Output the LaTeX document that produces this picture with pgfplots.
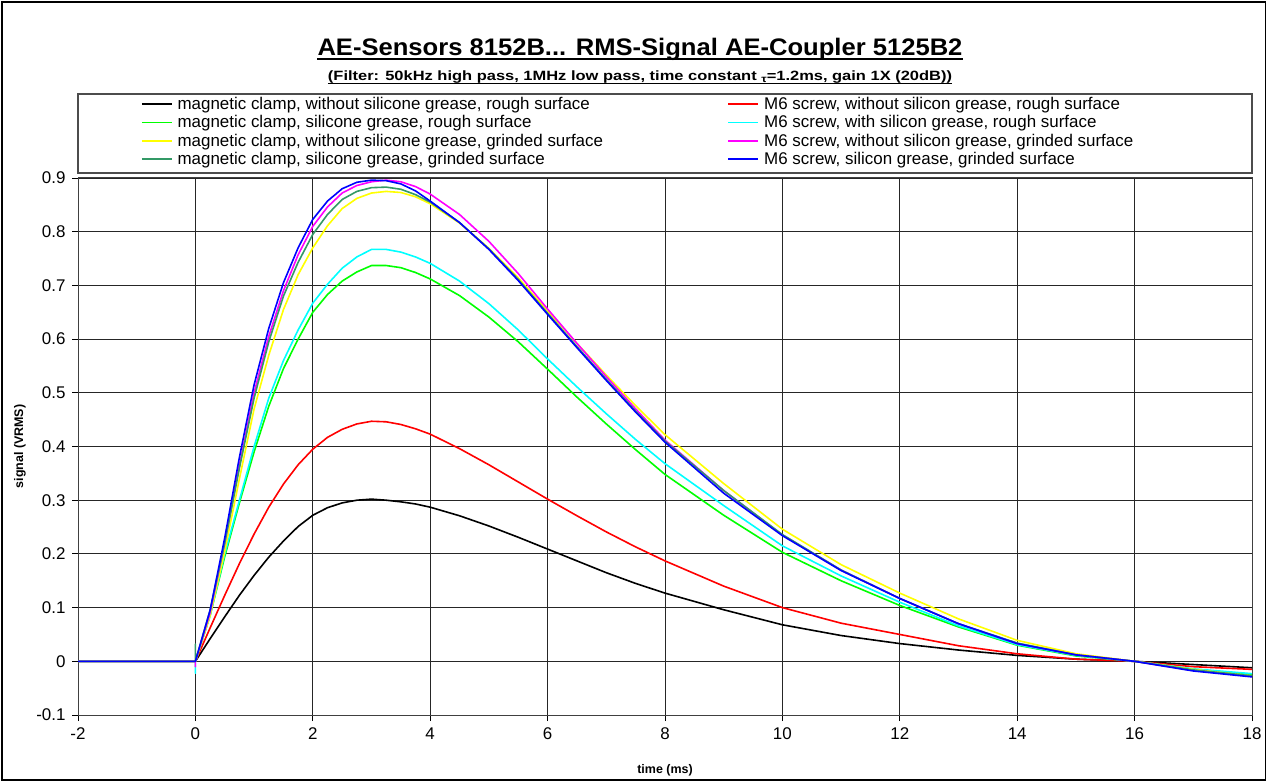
\documentclass[border=0pt]{standalone}
\usepackage{fontspec}
\setmainfont{Liberation Sans}
\usepackage{graphicx}
\usepackage{pgfplots}
\pgfplotsset{compat=1.18}

\definecolor{xlgreen}{RGB}{0,255,0}
\definecolor{xlyellow}{RGB}{255,255,0}
\definecolor{xlsea}{RGB}{51,153,102}
\definecolor{xlcyan}{RGB}{0,255,255}
\definecolor{xlmagenta}{RGB}{255,0,255}
\definecolor{xlblue}{RGB}{0,0,255}
\definecolor{xlred}{RGB}{255,0,0}

\begin{document}
\begin{tikzpicture}
\begin{axis}[
    name=ax,
    scale only axis,
    width=1174bp, height=537bp,
    xmin=-2, xmax=18, ymin=-0.1, ymax=0.9,
    xtick={-2,0,2,4,6,8,10,12,14,16,18},
    xticklabels={-2,0,2,4,6,8,10,12,14,16,18},
    ytick={-0.1,0,0.1,0.2,0.3,0.4,0.5,0.6,0.7,0.8,0.9},
    yticklabels={-0.1,0,0.1,0.2,0.3,0.4,0.5,0.6,0.7,0.8,0.9},
    grid=major,
    major grid style={black!85, line width=0.9bp},
    axis line style={black!75, line width=1bp},
    tick align=outside,
    tick pos=left,
    major tick length=6bp,
    tick style={black, line width=0.9bp},
    ticklabel style={font=\fontsize{17}{19}\selectfont},
    xticklabel style={yshift=-3bp},
    yticklabel style={xshift=-3bp},
    xlabel={time (ms)},
    ylabel={signal (VRMS)},
    every axis x label/.style={at={(axis description cs:0.5,-0.1024)}, anchor=center, font=\fontsize{12.5}{15}\selectfont\bfseries},
    every axis y label/.style={at={(axis description cs:-0.0494,0.5)}, anchor=center, rotate=90, font=\fontsize{12.5}{15}\selectfont\bfseries},
    legend columns=2,
    legend cell align=left,
    legend style={at={(axis description cs:0.05366,1.1508)}, anchor=north west,
        draw=none, fill=none, inner sep=0pt, outer sep=0pt,
        font=\fontsize{17}{19}\selectfont, row sep=4.7bp, column sep=0pt,
        nodes={inner sep=0pt},
        /tikz/every odd column/.append style={column sep=5bp}},
    legend image code/.code={\draw[#1, line width=1.6bp] (0bp,0bp) -- (30bp,0bp);},
    every axis plot/.append style={line width=1.6bp, line join=round},
]

% magnetic clamp, without grease, rough
\addplot[black] coordinates {
(-2,0) (0,0) (0.25,0.042) (0.5,0.083) (0.75,0.123) (1,0.160) (1.25,0.194)
(1.5,0.224) (1.75,0.251) (2,0.272) (2.25,0.286) (2.5,0.295) (2.75,0.300) (3,0.302)
(3.25,0.300) (3.5,0.297) (3.75,0.293) (4,0.287)
(4.5,0.271) (5,0.252) (5.5,0.231) (6,0.209) (6.5,0.187) (7,0.165) (7.5,0.145)
(8,0.127) (9,0.096) (10,0.068) (11,0.048) (12,0.033) (13,0.021) (14,0.011)
(15,0.004) (16,0.0) (17,-0.006) (18,-0.012)
};
\addlegendentry{\makebox[550bp][l]{magnetic clamp, without silicone grease, rough surface}}

% M6 screw, without grease, rough
\addplot[xlred] coordinates {
(-2,0) (0,0) (0.25,0.062) (0.5,0.123) (0.75,0.182) (1,0.237) (1.25,0.287)
(1.5,0.330) (1.75,0.366) (2,0.395) (2.25,0.417) (2.5,0.432) (2.75,0.442) (3,0.447)
(3.25,0.446) (3.5,0.441) (3.75,0.433) (4,0.423)
(4.5,0.396) (5,0.366) (5.5,0.334) (6,0.302) (6.5,0.271) (7,0.241) (7.5,0.213)
(8,0.187) (9,0.140) (10,0.100) (11,0.071) (12,0.050) (13,0.029) (14,0.014)
(15,0.004) (16,0.0) (17,-0.010) (18,-0.015)
};
\addlegendentry{M6 screw, without silicon grease, rough surface}

% magnetic clamp, grease, rough
\addplot[xlgreen] coordinates {
(-2,0) (0,0) (0.25,0.085) (0.5,0.195) (0.75,0.295) (1,0.39) (1.25,0.475)
(1.5,0.545) (1.75,0.600) (2,0.650) (2.25,0.683) (2.5,0.708) (2.75,0.725) (3,0.737)
(3.25,0.737) (3.5,0.733) (3.75,0.724) (4,0.712)
(4.5,0.681) (5,0.641) (5.5,0.595) (6,0.544) (6.5,0.492) (7,0.442) (7.5,0.394)
(8,0.348) (9,0.272) (10,0.203) (11,0.150) (12,0.104) (13,0.064) (14,0.030)
(15,0.010) (16,0.0) (17,-0.015) (18,-0.025)
};
\addlegendentry{\makebox[550bp][l]{magnetic clamp, silicone grease, rough surface}}

% M6 screw, grease, rough
\addplot[xlcyan] coordinates {
(-2,0) (0,0) (0,-0.022) (0,0) (0.25,0.085) (0.5,0.2) (0.75,0.30) (1,0.40)
(1.25,0.49) (1.5,0.56) (1.75,0.617) (2,0.667) (2.25,0.702) (2.5,0.732) (2.75,0.753)
(3,0.767) (3.25,0.767) (3.5,0.762) (3.75,0.753)
(4,0.741) (4.5,0.708) (5,0.666) (5.5,0.617) (6,0.563) (6.5,0.511) (7,0.461)
(7.5,0.413) (8,0.368) (9,0.290) (10,0.215) (11,0.159) (12,0.110) (13,0.066)
(14,0.031) (15,0.011) (16,0.0) (17,-0.014) (18,-0.023)
};
\addlegendentry{M6 screw, with silicon grease, rough surface}

% magnetic clamp, without grease, grinded
\addplot[xlyellow] coordinates {
(-2,0) (0,0) (0.25,0.085) (0.5,0.205) (0.75,0.34) (1,0.47) (1.25,0.57)
(1.5,0.655) (1.75,0.72) (2,0.77) (2.25,0.811) (2.5,0.843) (2.75,0.862) (3,0.872)
(3.25,0.875) (3.5,0.873) (3.75,0.865) (4,0.852)
(4.5,0.816) (5,0.769) (5.5,0.714) (6,0.652) (6.5,0.592) (7,0.533) (7.5,0.476)
(8,0.422) (9,0.331) (10,0.246) (11,0.18) (12,0.127) (13,0.079) (14,0.039)
(15,0.014) (16,0.0) (17,-0.015) (18,-0.027)
};
\addlegendentry{\makebox[550bp][l]{magnetic clamp, without silicone grease, grinded surface}}

% M6 screw, without grease, grinded
\addplot[xlmagenta] coordinates {
(-2,0) (0,0) (0,-0.01) (0,0) (0.25,0.09) (0.5,0.22) (0.75,0.365) (1,0.50)
(1.25,0.605) (1.5,0.69) (1.75,0.757) (2,0.81) (2.25,0.846) (2.5,0.872) (2.75,0.886)
(3,0.893) (3.25,0.896) (3.5,0.893) (3.75,0.884)
(4,0.870) (4.5,0.832) (5,0.782) (5.5,0.722) (6,0.656) (6.5,0.592) (7,0.530)
(7.5,0.470) (8,0.412) (9,0.318) (10,0.235) (11,0.17) (12,0.117) (13,0.07)
(14,0.033) (15,0.012) (16,0.0) (17,-0.017) (18,-0.028)
};
\addlegendentry{M6 screw, without silicon grease, grinded surface}

% magnetic clamp, grease, grinded
\addplot[xlsea] coordinates {
(-2,0) (0,0) (0,0.032) (0,0) (0.25,0.095) (0.5,0.22) (0.75,0.36) (1,0.49)
(1.25,0.595) (1.5,0.68) (1.75,0.743) (2,0.795) (2.25,0.832) (2.5,0.86) (2.75,0.875)
(3,0.882) (3.25,0.883) (3.5,0.879) (3.75,0.869)
(4,0.855) (4.5,0.817) (5,0.768) (5.5,0.711) (6,0.648) (6.5,0.586) (7,0.525)
(7.5,0.466) (8,0.41) (9,0.318) (10,0.236) (11,0.17) (12,0.117) (13,0.07)
(14,0.034) (15,0.012) (16,0.0) (17,-0.016) (18,-0.027)
};
\addlegendentry{\makebox[550bp][l]{magnetic clamp, silicone grease, grinded surface}}

% M6 screw, grease, grinded
\addplot[xlblue] coordinates {
(-2,0) (0,0) (0.25,0.095) (0.5,0.23) (0.75,0.38) (1,0.515) (1.25,0.62)
(1.5,0.705) (1.75,0.77) (2,0.823) (2.25,0.857) (2.5,0.88) (2.75,0.892) (3,0.896)
(3.25,0.895) (3.5,0.889) (3.75,0.876) (4,0.857)
(4.5,0.817) (5,0.767) (5.5,0.709) (6,0.646) (6.5,0.584) (7,0.523) (7.5,0.464)
(8,0.408) (9,0.313) (10,0.234) (11,0.169) (12,0.117) (13,0.07) (14,0.033)
(15,0.012) (16,0.0) (17,-0.018) (18,-0.029)
};
\addlegendentry{M6 screw, silicon grease, grinded surface}

\end{axis}

% legend frame
\draw[black!70, line width=1.2bp] ([yshift=5bp]ax.north west) rectangle ([yshift=84bp]ax.north east);

% titles
\node[anchor=base, inner sep=0pt] (ttl) at ([xshift=562bp, yshift=122bp]ax.north west)
    {\resizebox{645bp}{\height}{\fontsize{24}{28}\selectfont\bfseries AE-Sensors 8152B... RMS-Signal AE-Coupler 5125B2}};
\draw[line width=1.8bp] ([yshift=-3bp]ttl.base west) -- ([yshift=-3bp]ttl.base east);
\node[anchor=base, inner sep=0pt] (sub) at ([xshift=562bp, yshift=97bp]ax.north west)
    {\resizebox{624bp}{\height}{\fontsize{13.5}{15}\selectfont\bfseries (Filter: 50kHz high pass, 1MHz low pass, time constant {\fontsize{10}{12}\selectfont\raisebox{-1.5bp}{τ}}=1.2ms, gain 1X (20dB))}};
\draw[line width=1.2bp] ([yshift=-2.5bp]sub.base west) -- ([yshift=-2.5bp]sub.base east);

% chart border and page size
\draw[black, line width=1.5bp] ([xshift=-76bp,yshift=-65bp]ax.south west) rectangle ([xshift=13.5bp,yshift=176bp]ax.north east);
\path ([xshift=-78bp,yshift=-67bp]ax.south west) rectangle ([xshift=16bp,yshift=178bp]ax.north east);
\end{tikzpicture}
\end{document}
